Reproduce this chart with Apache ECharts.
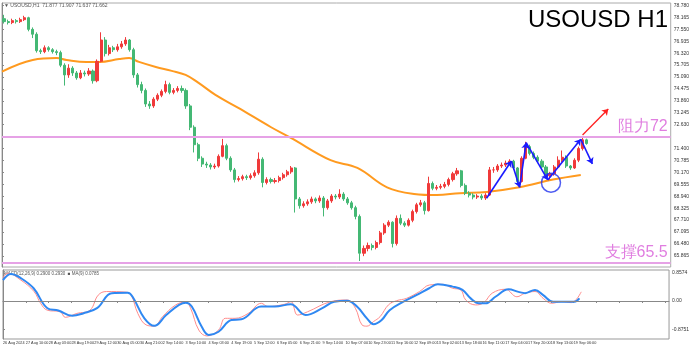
<!DOCTYPE html>
<html><head><meta charset="utf-8">
<script src="https://cdn.jsdelivr.net/npm/echarts@6/dist/echarts.min.js"></script>
<style>html,body{margin:0;padding:0;background:#fff}#c{width:692px;height:348px}</style>
</head><body><div id="c"></div>
<script>
// ---- data ----
const timeLabels = ["26 Aug 2024","27 Aug 10:00","28 Aug 03:00","28 Aug 19:00","29 Aug 12:00","30 Aug 05:00","30 Aug 21:00","2 Sep 14:00","3 Sep 10:00","4 Sep 03:00","4 Sep 19:00","5 Sep 12:00","6 Sep 05:00","6 Sep 21:00","9 Sep 14:00","10 Sep 07:00","10 Sep 23:00","11 Sep 16:00","12 Sep 09:00","13 Sep 02:00","13 Sep 18:00","16 Sep 11:00","17 Sep 04:00","17 Sep 20:00","18 Sep 13:00","19 Sep 06:00"];
const priceTicks = [78.780,78.165,77.550,76.935,76.320,75.705,75.090,74.475,73.860,73.245,72.630,71.400,70.785,70.170,69.555,68.940,68.325,67.710,67.095,66.480,65.865];
// 3-hour candles (open, close, low, high)
const opens = [78.10,77.95,77.90,78.00,77.95,78.05,78.15,77.55,77.30,76.45,76.40,76.60,76.50,76.40,76.35,75.70,75.20,75.55,75.30,75.05,75.30,75.25,75.40,74.90,75.90,77.00,76.30,76.60,76.50,76.65,76.80,77.00,76.50,75.20,74.70,74.40,73.70,73.60,73.95,74.15,74.35,74.70,74.30,74.40,74.50,74.40,73.60,72.50,71.60,70.90,70.60,70.55,70.45,70.50,71.00,71.55,70.90,70.30,69.80,69.85,69.95,69.90,70.00,70.15,70.85,69.65,69.80,69.70,69.75,69.90,70.05,70.20,70.40,68.80,68.45,68.55,68.65,68.80,68.70,68.85,68.35,68.70,68.95,68.90,69.05,68.80,68.60,68.35,67.90,66.00,66.25,66.40,66.30,66.55,67.05,67.45,67.60,66.50,67.80,67.55,67.45,67.70,68.15,68.50,68.60,68.20,69.60,69.35,69.40,69.45,69.55,69.80,70.10,70.25,69.50,69.10,69.00,68.90,68.95,68.85,69.00,70.30,70.30,70.50,70.55,70.65,70.75,70.40,69.70,70.90,71.50,71.15,70.95,70.75,70.45,70.00,70.10,70.45,70.80,70.95,70.50,70.40,70.80,71.40,71.85];
const closes = [77.95,77.90,78.00,77.95,78.05,78.15,77.55,77.30,76.45,76.40,76.60,76.50,76.40,76.35,75.70,75.20,75.55,75.30,75.05,75.30,75.25,75.40,74.90,75.90,77.00,76.30,76.60,76.50,76.65,76.80,77.00,76.50,75.20,74.70,74.40,73.70,73.60,73.95,74.15,74.35,74.70,74.30,74.40,74.50,74.40,73.60,72.50,71.60,70.90,70.60,70.55,70.45,70.50,71.00,71.55,70.90,70.30,69.80,69.85,69.95,69.90,70.00,70.15,70.85,69.65,69.80,69.70,69.75,69.90,70.05,70.20,70.40,68.80,68.45,68.55,68.65,68.80,68.70,68.85,68.35,68.70,68.95,68.90,69.05,68.80,68.60,68.35,67.90,66.00,66.25,66.40,66.30,66.55,67.05,67.45,67.60,66.50,67.80,67.55,67.45,67.70,68.15,68.50,68.60,68.20,69.60,69.35,69.40,69.45,69.55,69.80,70.10,70.25,69.50,69.10,69.00,68.90,68.95,68.85,69.00,70.30,70.30,70.50,70.55,70.65,70.75,70.40,69.70,70.90,71.50,71.15,70.95,70.75,70.45,70.00,70.10,70.45,70.80,70.95,70.50,70.40,70.80,71.40,71.85,71.66];
const lows = [77.85,77.80,77.82,77.85,77.88,77.98,77.45,77.10,76.35,76.28,76.32,76.40,76.30,76.22,75.60,74.65,75.05,75.15,74.95,74.98,75.12,75.15,74.75,74.82,75.85,76.15,76.20,76.38,76.40,76.55,76.70,76.40,75.05,74.55,74.25,73.55,73.45,73.50,73.85,74.05,74.25,74.20,74.20,74.30,74.28,73.45,72.35,71.20,70.75,70.45,70.40,70.32,70.35,70.42,70.95,70.80,70.20,69.65,69.70,69.75,69.78,69.80,69.90,70.05,69.40,69.55,69.60,69.60,69.65,69.80,69.95,70.10,68.10,68.30,68.35,68.45,68.55,68.58,68.60,67.90,68.25,68.60,68.78,68.80,68.70,68.50,68.25,67.75,65.60,65.85,66.10,66.15,66.20,66.45,66.95,67.35,66.30,66.40,67.45,67.35,67.38,67.60,68.05,68.40,68.00,68.15,69.25,69.25,69.30,69.35,69.45,69.70,70.00,69.40,69.00,68.88,68.78,68.80,68.75,68.75,68.95,70.15,70.20,70.40,70.45,70.55,70.30,69.55,69.65,70.85,71.05,70.85,70.65,70.35,69.90,69.80,70.00,70.35,70.70,70.40,70.30,70.35,70.70,71.30,71.60];
const highs = [78.30,78.05,78.10,78.08,78.15,78.25,78.20,77.65,77.40,76.55,76.72,76.68,76.58,76.50,76.45,75.80,75.75,75.65,75.40,75.45,75.42,75.55,75.48,76.00,77.40,77.15,76.75,76.70,76.80,76.95,77.15,77.05,76.60,75.30,74.85,74.50,73.85,74.05,74.25,74.45,74.90,74.80,74.52,74.62,74.65,74.50,73.70,72.60,71.70,71.00,70.72,70.65,70.62,71.10,71.90,71.65,71.00,70.40,69.98,70.05,70.05,70.12,70.28,71.20,70.95,69.92,69.90,69.88,70.00,70.15,70.30,70.50,70.45,68.90,68.68,68.78,68.92,68.88,68.98,68.95,68.80,69.05,69.05,69.30,69.15,68.90,68.70,68.45,68.00,66.40,66.55,66.50,66.65,67.15,67.55,67.70,67.65,67.95,68.00,67.65,67.80,68.25,68.60,68.75,68.70,69.95,69.70,69.52,69.58,69.68,69.90,70.20,70.40,70.30,69.60,69.20,69.10,69.05,69.05,69.10,70.45,70.45,70.60,70.68,70.78,70.85,70.82,70.45,71.00,71.75,71.60,71.25,71.05,70.85,70.55,70.20,70.55,71.00,71.30,71.05,70.55,70.90,71.50,72.00,71.91];
// moving average (hour index, value)
const maHours = [0,22.8,40.5,47.9,62.6,72.2,86.9,94.3,101.6,114.1,125.9,136.2,145.8,158.3,175.3,199.6,214.3,243.7,263.6,285.6,305.6,322.5,339.5,359.4,383.7,408.7,429.3];
const maValues = [75.37,75.97,76.07,75.97,75.87,75.87,76.02,76.07,75.87,75.61,75.41,75.20,74.79,74.17,73.50,72.50,71.95,70.80,70.40,69.40,69.06,69.00,69.10,69.16,69.40,69.80,70.04];
// oscillator
const macdHours = [0,5.9,13.3,22.8,33.1,41.2,51.5,59.6,70.0,81.0,92.8,96.5,105.3,112.7,121.5,131.1,136.2,140.6,148.0,153.2,160.5,170.1,177.5,192.2,202.5,214.3,225.3,237.8,246.7,256.3,263.6,271.0,275.9,282.0,287.9,298.2,307.8,317.4,323.8,334.8,342.2,348.3,354.4,359.4,366.7,376.5,383.9,388.8,396.2,402.3,409.6,418.3,425.6,429.3];
const macdValues = [0.64,0.83,0.70,0.39,-0.22,-0.29,-0.45,-0.38,-0.22,0.24,0.25,0.13,-0.53,-0.76,-0.43,-0.12,-0.05,-0.17,-0.79,-1.04,-0.94,-0.58,-0.56,-0.17,-0.17,-0.10,-0.43,-0.22,-0.02,0.01,-0.17,-0.53,-0.71,-0.58,-0.28,-0.02,0.18,0.39,0.51,0.44,0.34,0.08,-0.07,-0.07,0.13,0.36,0.28,0.24,0.34,0.18,-0.02,-0.02,-0.02,0.08];
const signalHours = [0,3.4,13.3,23.1,28.0,32.9,42.7,46.4,55.0,64.8,70.9,77.1,91.8,95.5,100.4,106.5,112.7,118.8,128.6,136.0,139.7,145.8,151.9,160.5,165.5,172.8,182.6,192.4,197.3,209.6,214.5,219.4,226.8,244.0,256.3,262.4,267.3,271.0,275.9,280.8,287.0,293.1,300.4,310.2,317.6,327.5,334.8,340.9,344.6,352.0,358.1,364.3,374.1,382.7,388.8,396.2,402.3,408.5,415.8,423.2,430.6];
const signalValues = [0.70,0.85,0.64,0.29,-0.07,-0.28,-0.33,-0.50,-0.38,-0.28,0.18,0.29,0.27,0.18,-0.38,-0.73,-0.77,-0.48,-0.12,-0.03,-0.22,-0.89,-1.07,-0.89,-0.53,-0.53,-0.38,-0.07,-0.17,-0.10,-0.02,-0.43,-0.33,-0.02,0.03,-0.22,-0.73,-0.77,-0.63,-0.48,-0.12,0.01,0.08,0.29,0.49,0.51,0.39,0.34,0.03,-0.12,-0.05,0.24,0.36,0.13,0.24,0.29,0.08,-0.07,-0.02,-0.05,0.28];
// annotations (hour index, price)
const zigzagHours = [359.4,377.8,383.9,388.8,404.8,429.3,437.9];
const zigzagPrices = [68.84,70.76,69.40,71.71,69.78,71.88,70.61];
const circleHour = 407.2, circlePrice = 69.64;
const breakoutHours = [430.6,449.7], breakoutPrices = [72.10,73.44];
const resistance = 72.0, support = 65.5, lastPrice = 71.662;

// ---- build ----
const candles = opens.map((o,i)=>[3*i+1.5, o, closes[i], lows[i], highs[i]]);
const maData = maHours.map((h,i)=>[h, maValues[i]]);
const macdData = macdHours.map((h,i)=>[h, macdValues[i]]);
const sigData = signalHours.map((h,i)=>[h, signalValues[i]]);
const zigSegs = [];
for (let i=0;i<zigzagHours.length-1;i++){
  zigSegs.push([{coord:[zigzagHours[i],zigzagPrices[i]]},{coord:[zigzagHours[i+1],zigzagPrices[i+1]]}]);
}
const FONT = 'Liberation Sans, Arial, sans-serif';
const pink = '#e07ee0';
const chart = echarts.init(document.getElementById('c'), null, {renderer:'canvas'});
chart.setOption({
  animation:false,
  backgroundColor:'#fff',
  textStyle:{fontFamily:FONT},
  title:{text:'USOUSD H1', right:19, top:3, textStyle:{fontSize:24, fontWeight:'normal', color:'#000', fontFamily:FONT}},
  graphic:[
    {type:'text', left:4, top:3, style:{text:'▼ USOUSD,H1  71.877 71.907 71.637 71.662', fontSize:5, fill:'#555', fontFamily:FONT}},
    {type:'text', left:4, top:271, style:{text:'MACD(12,26,9) 0.2900 0.2930  ■ MA(9) 0.0785', fontSize:4.5, fill:'#555', fontFamily:FONT}}
  ],
  grid:[
    {left:2, top:3, width:674, height:264, show:true, borderColor:'#aaa', borderWidth:1},
    {left:2, top:270, width:674, height:69, show:true, borderColor:'#999', borderWidth:1}
  ],
  xAxis:[
    {type:'value', gridIndex:0, min:0, max:496, interval:17, axisLabel:{show:false}, axisTick:{show:false}, axisLine:{show:false}, splitLine:{show:false}},
    {type:'value', gridIndex:1, min:0, max:496, interval:17,
      axisLine:{show:true, lineStyle:{color:'#888'}},
      axisTick:{show:true, length:2, lineStyle:{color:'#888'}},
      axisLabel:{show:true, fontSize:3.8, color:'#333', align:'left', margin:2, showMinLabel:true, showMaxLabel:false, hideOverlap:false,
        formatter:v=>{const k=Math.round(v/17); return timeLabels[k]||'';}},
      splitLine:{show:false}}
  ],
  yAxis:[
    {type:'value', gridIndex:0, position:'right', min:65.29, max:78.91,
      axisLine:{show:true, lineStyle:{color:'#888'}},
      axisTick:{show:true, length:2, customValues:priceTicks, lineStyle:{color:'#888'}},
      axisLabel:{fontSize:5, color:'#333', margin:3, customValues:priceTicks, formatter:v=>v.toFixed(3)},
      splitLine:{show:false}},
    {type:'value', gridIndex:1, position:'right', min:-1.163, max:0.949,
      axisLine:{show:true, lineStyle:{color:'#888'}},
      axisTick:{show:true, length:2, customValues:[0.8574,0,-0.8751]},
      axisLabel:{fontSize:5, color:'#333', margin:3, customValues:[0.8574,0,-0.8751], formatter:v=> v===0?'0.00':v.toFixed(4)},
      splitLine:{show:false}}
  ],
  series:[
    {type:'line', xAxisIndex:0, yAxisIndex:0, data:maData, smooth:0.4, showSymbol:false, silent:true,
      lineStyle:{color:'#ff9a1f', width:2}, z:2},
    {type:'candlestick', xAxisIndex:0, yAxisIndex:0, data:candles, barWidth:2.6, silent:true, z:3,
      itemStyle:{color:'#f03a3a', color0:'#44b874', borderColor:'#f03a3a', borderColor0:'#44b874', borderWidth:1},
      markLine:{symbol:['none','none'], silent:true, animation:false,
        data:[
          {yAxis:resistance, lineStyle:{color:'#e6a2e6', width:2, type:'solid'},
            label:{show:true, position:'insideEndTop', formatter:'阻力72', fontSize:16, color:pink, distance:[3,2], fontFamily:FONT}},
          {yAxis:support, lineStyle:{color:'#e6a2e6', width:2, type:'solid'},
            label:{show:true, position:'insideEndTop', formatter:'支撑65.5', fontSize:16, color:pink, distance:[3,2], fontFamily:FONT}},
          {yAxis:resistance, lineStyle:{opacity:0}, label:{show:true, position:'end', distance:1, formatter:'72.000', fontSize:5, color:'#fff', backgroundColor:'#e08ae0', padding:[1,2]}},
          {yAxis:support, lineStyle:{opacity:0}, label:{show:true, position:'end', distance:1, formatter:'65.500', fontSize:5, color:'#fff', backgroundColor:'#e08ae0', padding:[1,2]}},
          {yAxis:lastPrice, lineStyle:{opacity:0}, label:{show:true, position:'end', distance:1, formatter:'71.662', fontSize:5, color:'#fff', backgroundColor:'#000', padding:[1,2]}}
        ]}
    },
    {type:'line', xAxisIndex:0, yAxisIndex:0, data:[], silent:true, z:5,
      markLine:{silent:true, animation:false, symbol:['none','arrow'], symbolSize:6,
        lineStyle:{color:'#1a1aff', width:1.6, type:'solid'}, label:{show:false},
        data: zigSegs.concat([
          [{coord:[breakoutHours[0],breakoutPrices[0]], lineStyle:{color:'#ff2020', width:1.3}},{coord:[breakoutHours[1],breakoutPrices[1]]}]
        ])}
    },
    {type:'scatter', xAxisIndex:0, yAxisIndex:0, data:[[circleHour,circlePrice]], symbol:'circle', symbolSize:19, silent:true, z:6,
      itemStyle:{color:'rgba(0,0,0,0)', borderColor:'#2233ee', borderWidth:1.5}},
    {type:'line', xAxisIndex:1, yAxisIndex:1, data:sigData, smooth:0.4, showSymbol:false, silent:true,
      lineStyle:{color:'#ff8c8c', width:1}, z:3,
      markLine:{silent:true, symbol:['none','none'], label:{show:false}, lineStyle:{color:'#888', width:1, type:'solid'}, data:[{yAxis:0}]}},
    {type:'line', xAxisIndex:1, yAxisIndex:1, data:macdData, smooth:0.4, showSymbol:false, silent:true,
      lineStyle:{color:'#2f88f2', width:2}, z:4}
  ]
});
</script></body></html>
